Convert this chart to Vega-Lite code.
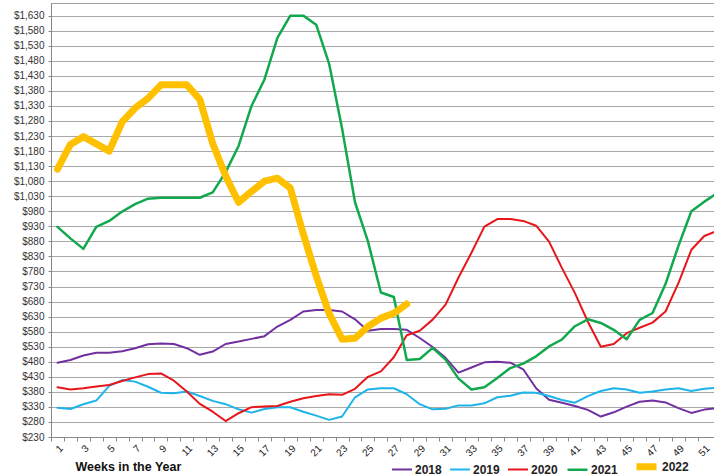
{
  "$schema": "https://vega.github.io/schema/vega-lite/v6.json",
  "width": 663,
  "height": 434,
  "autosize": {"type": "none"},
  "padding": {"left": 51, "top": 3, "right": 0, "bottom": 39},
  "background": "white",
  "config": {"view": {"stroke": "#a0a0a0", "strokeWidth": 1}, "font": "Liberation Sans"},
  "data": {"values": [
    {"year":"2018","week":1,"price":477},{"year":"2018","week":2,"price":486},{"year":"2018","week":3,"price":501},{"year":"2018","week":4,"price":510},{"year":"2018","week":5,"price":510},{"year":"2018","week":6,"price":515},{"year":"2018","week":7,"price":525},{"year":"2018","week":8,"price":538},{"year":"2018","week":9,"price":541},{"year":"2018","week":10,"price":539},{"year":"2018","week":11,"price":525},{"year":"2018","week":12,"price":503},{"year":"2018","week":13,"price":514},{"year":"2018","week":14,"price":539},{"year":"2018","week":15,"price":547},{"year":"2018","week":16,"price":556},{"year":"2018","week":17,"price":565},{"year":"2018","week":18,"price":597},{"year":"2018","week":19,"price":619},{"year":"2018","week":20,"price":647},{"year":"2018","week":21,"price":652},{"year":"2018","week":22,"price":652},{"year":"2018","week":23,"price":647},{"year":"2018","week":24,"price":621},{"year":"2018","week":25,"price":583},{"year":"2018","week":26,"price":589},{"year":"2018","week":27,"price":589},{"year":"2018","week":28,"price":586},{"year":"2018","week":29,"price":559},{"year":"2018","week":30,"price":529},{"year":"2018","week":31,"price":493},{"year":"2018","week":32,"price":444},{"year":"2018","week":33,"price":461},{"year":"2018","week":34,"price":478},{"year":"2018","week":35,"price":480},{"year":"2018","week":36,"price":477},{"year":"2018","week":37,"price":455},{"year":"2018","week":38,"price":392},{"year":"2018","week":39,"price":354},{"year":"2018","week":40,"price":344},{"year":"2018","week":41,"price":333},{"year":"2018","week":42,"price":320},{"year":"2018","week":43,"price":298},{"year":"2018","week":44,"price":312},{"year":"2018","week":45,"price":331},{"year":"2018","week":46,"price":347},{"year":"2018","week":47,"price":351},{"year":"2018","week":48,"price":345},{"year":"2018","week":49,"price":326},{"year":"2018","week":50,"price":310},{"year":"2018","week":51,"price":321},{"year":"2018","week":52,"price":326},
    {"year":"2019","week":1,"price":327},{"year":"2019","week":2,"price":323},{"year":"2019","week":3,"price":339},{"year":"2019","week":4,"price":351},{"year":"2019","week":5,"price":400},{"year":"2019","week":6,"price":419},{"year":"2019","week":7,"price":414},{"year":"2019","week":8,"price":397},{"year":"2019","week":9,"price":377},{"year":"2019","week":10,"price":375},{"year":"2019","week":11,"price":381},{"year":"2019","week":12,"price":366},{"year":"2019","week":13,"price":350},{"year":"2019","week":14,"price":339},{"year":"2019","week":15,"price":322},{"year":"2019","week":16,"price":311},{"year":"2019","week":17,"price":323},{"year":"2019","week":18,"price":329},{"year":"2019","week":19,"price":329},{"year":"2019","week":20,"price":314},{"year":"2019","week":21,"price":301},{"year":"2019","week":22,"price":287},{"year":"2019","week":23,"price":298},{"year":"2019","week":24,"price":362},{"year":"2019","week":25,"price":388},{"year":"2019","week":26,"price":392},{"year":"2019","week":27,"price":392},{"year":"2019","week":28,"price":372},{"year":"2019","week":29,"price":339},{"year":"2019","week":30,"price":322},{"year":"2019","week":31,"price":324},{"year":"2019","week":32,"price":335},{"year":"2019","week":33,"price":335},{"year":"2019","week":34,"price":342},{"year":"2019","week":35,"price":362},{"year":"2019","week":36,"price":367},{"year":"2019","week":37,"price":378},{"year":"2019","week":38,"price":377},{"year":"2019","week":39,"price":366},{"year":"2019","week":40,"price":353},{"year":"2019","week":41,"price":344},{"year":"2019","week":42,"price":366},{"year":"2019","week":43,"price":383},{"year":"2019","week":44,"price":392},{"year":"2019","week":45,"price":388},{"year":"2019","week":46,"price":377},{"year":"2019","week":47,"price":381},{"year":"2019","week":48,"price":388},{"year":"2019","week":49,"price":392},{"year":"2019","week":50,"price":383},{"year":"2019","week":51,"price":390},{"year":"2019","week":52,"price":394},
    {"year":"2020","week":1,"price":395},{"year":"2020","week":2,"price":388},{"year":"2020","week":3,"price":392},{"year":"2020","week":4,"price":398},{"year":"2020","week":5,"price":403},{"year":"2020","week":6,"price":416},{"year":"2020","week":7,"price":428},{"year":"2020","week":8,"price":439},{"year":"2020","week":9,"price":441},{"year":"2020","week":10,"price":417},{"year":"2020","week":11,"price":381},{"year":"2020","week":12,"price":340},{"year":"2020","week":13,"price":314},{"year":"2020","week":14,"price":283},{"year":"2020","week":15,"price":309},{"year":"2020","week":16,"price":329},{"year":"2020","week":17,"price":331},{"year":"2020","week":18,"price":333},{"year":"2020","week":19,"price":347},{"year":"2020","week":20,"price":359},{"year":"2020","week":21,"price":366},{"year":"2020","week":22,"price":372},{"year":"2020","week":23,"price":370},{"year":"2020","week":24,"price":390},{"year":"2020","week":25,"price":430},{"year":"2020","week":26,"price":448},{"year":"2020","week":27,"price":495},{"year":"2020","week":28,"price":568},{"year":"2020","week":29,"price":583},{"year":"2020","week":30,"price":620},{"year":"2020","week":31,"price":670},{"year":"2020","week":32,"price":760},{"year":"2020","week":33,"price":842},{"year":"2020","week":34,"price":929},{"year":"2020","week":35,"price":954},{"year":"2020","week":36,"price":954},{"year":"2020","week":37,"price":948},{"year":"2020","week":38,"price":932},{"year":"2020","week":39,"price":879},{"year":"2020","week":40,"price":791},{"year":"2020","week":41,"price":708},{"year":"2020","week":42,"price":613},{"year":"2020","week":43,"price":530},{"year":"2020","week":44,"price":539},{"year":"2020","week":45,"price":575},{"year":"2020","week":46,"price":593},{"year":"2020","week":47,"price":610},{"year":"2020","week":48,"price":647},{"year":"2020","week":49,"price":741},{"year":"2020","week":50,"price":852},{"year":"2020","week":51,"price":898},{"year":"2020","week":52,"price":915},
    {"year":"2021","week":1,"price":928},{"year":"2021","week":2,"price":890},{"year":"2021","week":3,"price":855},{"year":"2021","week":4,"price":928},{"year":"2021","week":5,"price":948},{"year":"2021","week":6,"price":979},{"year":"2021","week":7,"price":1004},{"year":"2021","week":8,"price":1022},{"year":"2021","week":9,"price":1025},{"year":"2021","week":10,"price":1025},{"year":"2021","week":11,"price":1025},{"year":"2021","week":12,"price":1025},{"year":"2021","week":13,"price":1043},{"year":"2021","week":14,"price":1110},{"year":"2021","week":15,"price":1197},{"year":"2021","week":16,"price":1330},{"year":"2021","week":17,"price":1418},{"year":"2021","week":18,"price":1556},{"year":"2021","week":19,"price":1630},{"year":"2021","week":20,"price":1630},{"year":"2021","week":21,"price":1600},{"year":"2021","week":22,"price":1470},{"year":"2021","week":23,"price":1255},{"year":"2021","week":24,"price":1010},{"year":"2021","week":25,"price":880},{"year":"2021","week":26,"price":710},{"year":"2021","week":27,"price":695},{"year":"2021","week":28,"price":486},{"year":"2021","week":29,"price":489},{"year":"2021","week":30,"price":526},{"year":"2021","week":31,"price":487},{"year":"2021","week":32,"price":424},{"year":"2021","week":33,"price":388},{"year":"2021","week":34,"price":395},{"year":"2021","week":35,"price":426},{"year":"2021","week":36,"price":459},{"year":"2021","week":37,"price":474},{"year":"2021","week":38,"price":498},{"year":"2021","week":39,"price":531},{"year":"2021","week":40,"price":554},{"year":"2021","week":41,"price":598},{"year":"2021","week":42,"price":621},{"year":"2021","week":43,"price":609},{"year":"2021","week":44,"price":586},{"year":"2021","week":45,"price":555},{"year":"2021","week":46,"price":619},{"year":"2021","week":47,"price":642},{"year":"2021","week":48,"price":738},{"year":"2021","week":49,"price":865},{"year":"2021","week":50,"price":980},{"year":"2021","week":51,"price":1012},{"year":"2021","week":52,"price":1040},
    {"year":"2022","week":1,"price":1120},{"year":"2022","week":2,"price":1202},{"year":"2022","week":3,"price":1228},{"year":"2022","week":4,"price":1204},{"year":"2022","week":5,"price":1180},{"year":"2022","week":6,"price":1277},{"year":"2022","week":7,"price":1323},{"year":"2022","week":8,"price":1355},{"year":"2022","week":9,"price":1400},{"year":"2022","week":10,"price":1400},{"year":"2022","week":11,"price":1400},{"year":"2022","week":12,"price":1352},{"year":"2022","week":13,"price":1205},{"year":"2022","week":14,"price":1097},{"year":"2022","week":15,"price":1010},{"year":"2022","week":16,"price":1046},{"year":"2022","week":17,"price":1080},{"year":"2022","week":18,"price":1090},{"year":"2022","week":19,"price":1057},{"year":"2022","week":20,"price":905},{"year":"2022","week":21,"price":765},{"year":"2022","week":22,"price":640},{"year":"2022","week":23,"price":555},{"year":"2022","week":24,"price":558},{"year":"2022","week":25,"price":597},{"year":"2022","week":26,"price":625},{"year":"2022","week":27,"price":641},{"year":"2022","week":28,"price":672}
  ]},
  "mark": {"type": "line", "clip": true, "strokeJoin": "round", "strokeCap": "round"},
  "encoding": {
    "x": {
      "field": "week", "type": "quantitative",
      "scale": {"domain": [0.5, 51.75], "nice": false, "zero": false},
      "axis": {
        "values": [1,2,3,4,5,6,7,8,9,10,11,12,13,14,15,16,17,18,19,20,21,22,23,24,25,26,27,28,29,30,31,32,33,34,35,36,37,38,39,40,41,42,43,44,45,46,47,48,49,50,51,52],
        "labelExpr": "datum.value % 2 == 1 ? datum.label : ''",
        "labelOverlap": false, "labelFlush": false,
        "tickOffset": -6.47, "labelOffset": 6.47,
        "labelAngle": -45, "labelFontSize": 10, "labelColor": "#222", "labelPadding": 2,
        "grid": false, "tickSize": 4, "tickColor": "#888", "domainColor": "#888",
        "title": "Weeks in the Year", "titleFontSize": 12.5, "titleFontWeight": "bold", "titleColor": "#111",
        "titleAnchor": "start", "titleAlign": "left", "titleX": 24, "titleY": 33, "titleBaseline": "alphabetic"
      }
    },
    "y": {
      "field": "price", "type": "quantitative",
      "scale": {"domain": [230, 1672], "nice": false, "zero": false},
      "axis": {
        "values": [230,280,330,380,430,480,530,580,630,680,730,780,830,880,930,980,1030,1080,1130,1180,1230,1280,1330,1380,1430,1480,1530,1580,1630],
        "format": "$,d", "labelFlush": false, "labelOverlap": false,
        "labelFontSize": 10, "labelColor": "#333", "labelPadding": 4,
        "gridColor": "#a8a8a8", "tickSize": 3, "tickColor": "#888", "domainColor": "#888",
        "title": null
      }
    },
    "color": {
      "field": "year", "type": "ordinal",
      "scale": {"domain": ["2018","2019","2020","2021","2022"], "range": ["#7030A0","#1EB4EA","#E8151B","#12A84E","#FFC000"]},
      "legend": {
        "orient": "none", "legendX": 340, "legendY": 450, "direction": "horizontal", "title": null, "padding": 0,
        "symbolType": "stroke", "symbolSize": 400,
        "labelFontSize": 12, "labelFontWeight": "bold", "labelColor": "#222", "labelOffset": 2, "columnPadding": 4
      }
    },
    "strokeWidth": {
      "field": "year", "type": "ordinal",
      "scale": {"type": "ordinal", "domain": ["2018","2019","2020","2021","2022"], "range": [2, 2, 2, 2.5, 7]},
      "legend": {
        "orient": "none", "legendX": 340, "legendY": 450, "direction": "horizontal", "title": null, "padding": 0,
        "symbolType": "stroke", "symbolSize": 400,
        "labelFontSize": 12, "labelFontWeight": "bold", "labelColor": "#222", "labelOffset": 2, "columnPadding": 4
      }
    }
  }
}
